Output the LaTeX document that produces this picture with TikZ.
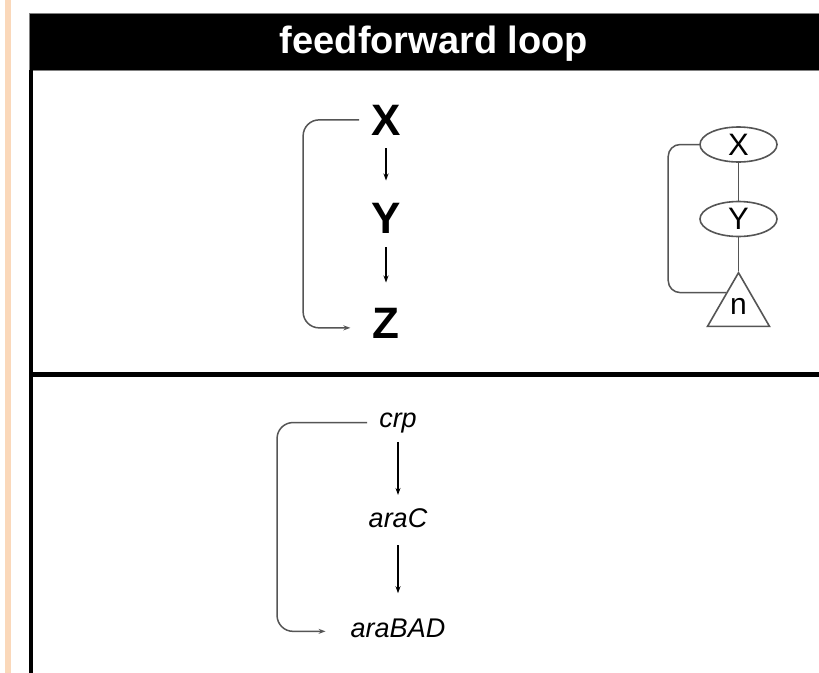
\documentclass[tikz,border=0pt]{standalone}
\usepackage{fontspec}
\setmainfont{Liberation Sans}
\usepackage{tikz}
\usetikzlibrary{arrows.meta, shapes.geometric}
\definecolor{peach}{RGB}{250,216,186}
\definecolor{loopgray}{RGB}{85,85,85}

\begin{document}
\begin{tikzpicture}[x=1pt, y=-1pt,
        big/.style={inner sep=0pt, anchor=base, font=\fontsize{44}{44}\selectfont\bfseries},
        small/.style={inner sep=0pt, anchor=base, font=\fontsize{27}{27}\selectfont\itshape},
        bubble/.style={draw=loopgray, line width=1.6pt, ellipse, minimum width=77pt, minimum height=35pt, inner sep=0pt, font=\fontsize{31}{31}\selectfont},
        link/.style={-{Stealth[length=7pt, width=5pt]}, line width=1.2pt},
        feedback/.style={draw=loopgray, line width=1.5pt, rounded corners=16pt}]
        % Page and frame
        \useasboundingbox (0, 0) rectangle (819, 672);
        \fill [white] (0, 0) rectangle (819, 672);
        \fill [peach] (5, -2) rectangle (11, 676);
        \draw [fill=black, draw=gray] (29, 13) rectangle (825, 70);
        \node [anchor=base, inner sep=0pt, text=white, font=\fontsize{38}{38}\selectfont\bfseries] (title) at (434, 53) {feedforward loop};
        \draw [line width=4.5pt] (31, 70) -- (31, 690);
        \draw [line width=5pt] (31, 374.5) -- (825, 374.5);
        % Top: general motif
        \node [big] (X) at (386, 135) {X};
        \node [big] (Y) at (386, 233) {Y};
        \node [big] (Z) at (386, 338) {Z};
        \draw [link, shorten <=13pt, shorten >=22pt] (X) -- (Y);
        \draw [link, shorten <=14pt, shorten >=25pt] (Y) -- (Z);
        \draw [feedback, -{Stealth[length=7pt, width=5pt]}, shorten >=22pt] ([xshift=-12pt]X.west) -- ++(-56, 0) |- ([yshift=-5pt]Z.west);
        % Top right: graph symbol
        \node [bubble] (motifX) at (738.5, 144.5) {X};
        \node [bubble] (motifY) at (738.5, 219) {Y};
        \node [draw=loopgray, line width=1.6pt, regular polygon, regular polygon sides=3, minimum size=71.6pt, inner sep=0pt, font=\fontsize{30}{30}\selectfont] (motifN) at (738.5, 308.5) {\raisebox{4pt}{n}};
        \draw [loopgray, line width=1.6pt] (motifX) -- (motifY);
        \draw [loopgray, line width=1.6pt] (motifY) -- (motifN.corner 1);
        \draw [feedback, rounded corners=12pt] (motifX.west) -- ++(-31, 0) |- (motifN.128);
        % Bottom: arabinose example
        \node [small] (crp) at (398, 427) {crp};
        \node [small] (araC) at (398, 527) {araC};
        \node [small] (araBAD) at (398, 637) {araBAD};
        \draw [link, shorten <=9pt, shorten >=13pt] (crp) -- (araC);
        \draw [link, shorten <=18pt, shorten >=25pt] (araC) -- (araBAD);
        \draw [feedback, -{Stealth[length=7pt, width=5pt]}, shorten >=25pt] ([xshift=-12pt]crp.west) -- ++(-90, 0) |- ([yshift=-3.5pt]araBAD.west);
    \end{tikzpicture}
\end{document}
